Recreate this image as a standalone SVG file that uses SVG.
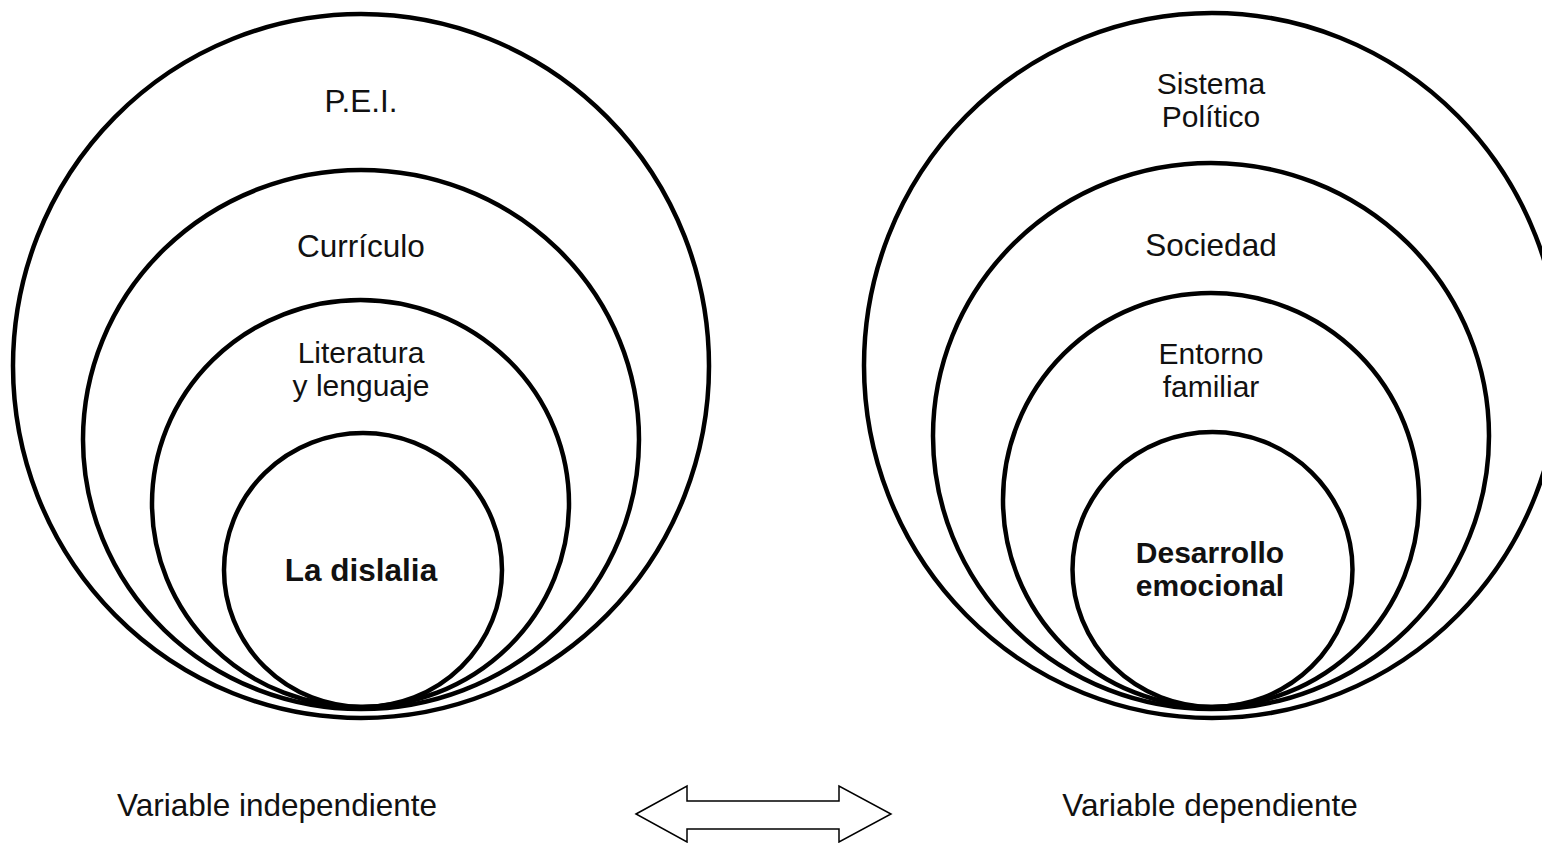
<svg xmlns="http://www.w3.org/2000/svg" width="1542" height="843" viewBox="0 0 1542 843">
  <style>
    .ring { fill: none; stroke: #000; stroke-width: 4.5; }
    .lbl { font-family: "Liberation Sans", Arial, sans-serif; font-size: 31.5px; fill: #111; text-anchor: middle; }
    .two { font-size: 30px; }
    .bold { font-weight: bold; }
    .arrow { fill: #fff; stroke: #000; stroke-width: 1.5; stroke-linejoin: miter; }
  </style>
  <rect width="1542" height="843" fill="#fff"/>

  <g id="left-set">
    <g id="pei">
      <ellipse class="ring" cx="361" cy="366" rx="348" ry="352"/>
      <text class="lbl" x="361" y="112">P.E.I.</text>
    </g>
    <g id="curriculo">
      <ellipse class="ring" cx="361" cy="439.5" rx="278" ry="269.5"/>
      <text class="lbl" x="361" y="257">Currículo</text>
    </g>
    <g id="literatura">
      <ellipse class="ring" cx="360.5" cy="503.5" rx="208.5" ry="203.5"/>
      <text class="lbl two" x="361" y="363">Literatura</text>
      <text class="lbl two" x="361" y="396">y lenguaje</text>
    </g>
    <g id="dislalia">
      <ellipse class="ring" cx="363" cy="570" rx="139" ry="137"/>
      <text class="lbl bold" x="361" y="581">La dislalia</text>
    </g>
  </g>

  <g id="right-set">
    <g id="sistema">
      <ellipse class="ring" cx="1212" cy="365.5" rx="348" ry="352.5"/>
      <text class="lbl two" x="1211" y="94">Sistema</text>
      <text class="lbl two" x="1211" y="127">Político</text>
    </g>
    <g id="sociedad">
      <ellipse class="ring" cx="1211" cy="436" rx="278" ry="273"/>
      <text class="lbl" x="1211" y="256">Sociedad</text>
    </g>
    <g id="entorno">
      <ellipse class="ring" cx="1211" cy="500" rx="208" ry="207"/>
      <text class="lbl two" x="1211" y="364">Entorno</text>
      <text class="lbl two" x="1211" y="397">familiar</text>
    </g>
    <g id="desarrollo">
      <ellipse class="ring" cx="1212.5" cy="569.5" rx="140" ry="137.5"/>
      <text class="lbl two bold" x="1210" y="563">Desarrollo</text>
      <text class="lbl two bold" x="1210" y="596">emocional</text>
    </g>
  </g>

  <g id="var-independiente">
    <text class="lbl" x="277" y="816">Variable independiente</text>
  </g>
  <g id="var-dependiente">
    <text class="lbl" x="1210" y="816">Variable dependiente</text>
  </g>

  <g id="connectors">
    <polygon class="arrow" points="636,814 687,786 687,801 839,801 839,786 891,814 839,842 839,829 687,829 687,842"/>
  </g>
</svg>
